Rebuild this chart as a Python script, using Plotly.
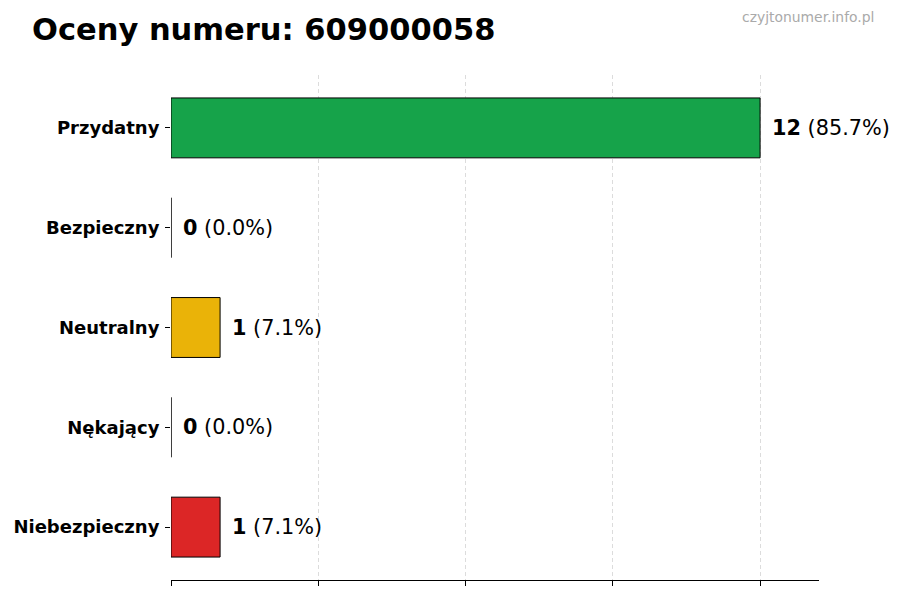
import plotly.graph_objects as go

categories = ["Przydatny", "Bezpieczny", "Neutralny", "Nękający", "Niebezpieczny"]
values = [12, 0, 1, 0, 1]
colors = ["#16a34a", "#2563eb", "#eab308", "#f97316", "#dc2626"]
title_text = "Oceny numeru: 609000058"
watermark = "czyjtonumer.info.pl"
x_ticks = [0, 3, 6, 9, 12]

total = sum(values)
FONT = "DejaVu Sans"

fig = go.Figure()
fig.add_trace(go.Bar(
    x=values, y=categories, orientation="h", width=0.6,
    marker=dict(color=colors, line=dict(color="#000000", width=1)),
    hoverinfo="skip", showlegend=False,
))

for cat, v in zip(categories, values):
    pct = 100.0 * v / total if total else 0
    fig.add_annotation(
        x=v, y=cat, xref="x", yref="y",
        text=f"<b>{v}</b> ({pct:.1f}%)",
        showarrow=False, xanchor="left", yanchor="middle", xshift=10,
        font=dict(family=FONT, size=20.8, color="#000000"),
    )

fig.add_annotation(
    x=1.088, y=1.115, xref="paper", yref="paper",
    text=watermark, showarrow=False, xanchor="right", yanchor="middle",
    font=dict(family=FONT, size=13.9, color="#aaaaaa"),
)

fig.update_layout(
    width=900, height=600,
    margin=dict(l=171, r=81, t=75, b=20),
    paper_bgcolor="white", plot_bgcolor="white",
    title=dict(text=f"<b>{title_text}</b>", x=32/900, xanchor="left",
               y=1 - 29/600, yanchor="middle", yref="container", xref="container",
               font=dict(family=FONT, size=30.5, color="#000000")),
    font=dict(family=FONT),
    bargap=0.4,
)
fig.update_xaxes(
    range=[0, 13.2], tickvals=x_ticks, showticklabels=False,
    showgrid=True, gridcolor="#dcdcdc", gridwidth=0.8, griddash="4px,3px",
    showline=True, linecolor="#000000", linewidth=1.3,
    ticks="outside", ticklen=5, tickcolor="#000000", tickwidth=1,
    zeroline=False, fixedrange=True,
)
fig.update_yaxes(
    categoryorder="array", categoryarray=categories,
    range=[4.53, -0.53],
    showgrid=False, showline=False, zeroline=False,
    ticks="outside", ticklen=5, tickcolor="#000000", tickwidth=1,
    tickfont=dict(family=FONT, size=18, color="#000000"),
    ticklabelstandoff=2,
    tickvals=categories, ticktext=[f"<b>{c}</b>" for c in categories],
)

fig.write_html("out.html", config={"displayModeBar": False},
               post_script="document.body.style.margin='0';")
